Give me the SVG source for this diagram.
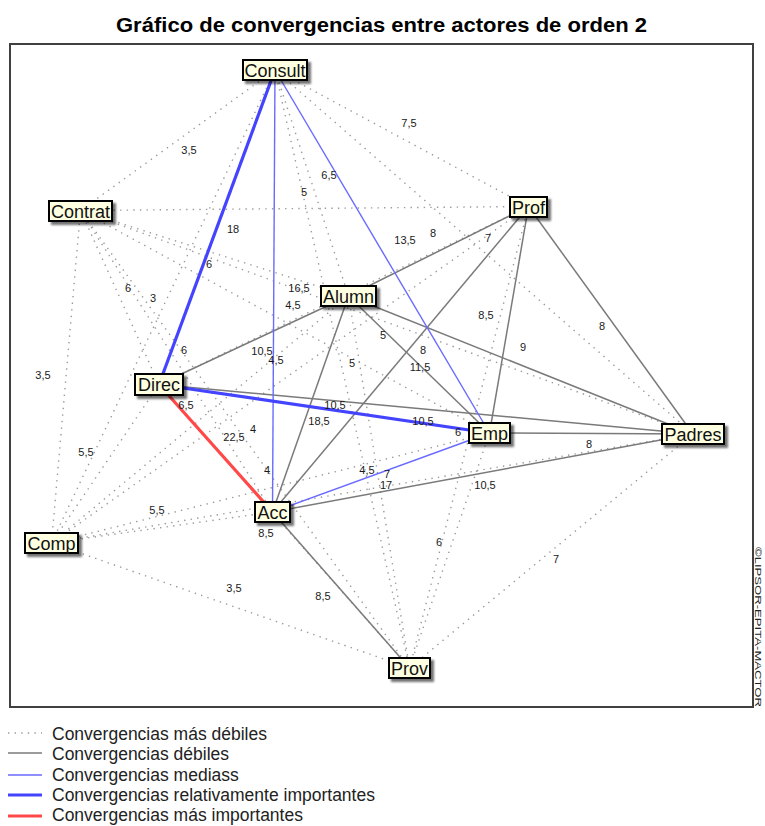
<svg xmlns="http://www.w3.org/2000/svg" width="765" height="826" viewBox="0 0 765 826">
  <defs>
    <filter id="shadow" x="-20%" y="-30%" width="150%" height="180%">
      <feDropShadow dx="3" dy="3" stdDeviation="1.2" flood-color="#000" flood-opacity="0.55"/>
    </filter>
    <style>
      .title { font-family: "Liberation Sans", Arial, sans-serif; font-weight: bold; font-size: 20px; fill: #000; }
      .box { fill: #ffffe1; stroke: #000; stroke-width: 2; filter: url(#shadow); }
      .name { font-family: "Liberation Sans", Arial, sans-serif; font-size: 18px; fill: #111; text-anchor: middle; }
      .val { font-family: "Liberation Sans", Arial, sans-serif; font-size: 11px; fill: #1a1a1a; text-anchor: middle; }
      .leg { font-family: "Liberation Sans", Arial, sans-serif; font-size: 17.5px; fill: #222; }
      .dot { stroke: #9a9a9a; stroke-width: 1.4; stroke-dasharray: 1.4 5.2; fill: none; }
      .weak { stroke: #7a7a7a; stroke-width: 1.5; fill: none; }
      .mid { stroke: #6a6aff; stroke-width: 1.4; fill: none; }
      .rel { stroke: #4444ff; stroke-width: 3.2; fill: none; }
      .top { stroke: #ff4848; stroke-width: 3.2; fill: none; }
      .copy { font-family: "Liberation Sans", Arial, sans-serif; font-size: 9.5px; fill: #222; }
    </style>
  </defs>

  <rect width="765" height="826" fill="#fff"/>

  <text class="title" x="381.5" y="32" text-anchor="middle" textLength="531" lengthAdjust="spacingAndGlyphs">Gráfico de convergencias entre actores de orden 2</text>

  <!-- plot frame -->
  <rect x="10" y="44" width="743" height="663" fill="#fff" stroke="#404040" stroke-width="2"/>

  <!-- connectors: every pair of actors, styled by convergence strength -->
  <g id="connectors">
    <g id="weakest">
      <line class="dot" x1="275" y1="70" x2="80.5" y2="210.5"/>
      <line class="dot" x1="275" y1="70" x2="528.5" y2="206.5"/>
      <line class="dot" x1="275" y1="70" x2="348.5" y2="296"/>
      <line class="dot" x1="275" y1="70" x2="693" y2="434"/>
      <line class="dot" x1="275" y1="70" x2="51.5" y2="543"/>
      <line class="dot" x1="275" y1="70" x2="409.5" y2="668"/>
      <line class="dot" x1="80.5" y1="210.5" x2="528.5" y2="206.5"/>
      <line class="dot" x1="80.5" y1="210.5" x2="348.5" y2="296"/>
      <line class="dot" x1="80.5" y1="210.5" x2="159" y2="384.5"/>
      <line class="dot" x1="80.5" y1="210.5" x2="489.5" y2="433"/>
      <line class="dot" x1="80.5" y1="210.5" x2="693" y2="434"/>
      <line class="dot" x1="80.5" y1="210.5" x2="272.5" y2="512"/>
      <line class="dot" x1="80.5" y1="210.5" x2="51.5" y2="543"/>
      <line class="dot" x1="80.5" y1="210.5" x2="409.5" y2="668"/>
      <line class="dot" x1="528.5" y1="206.5" x2="159" y2="384.5"/>
      <line class="dot" x1="528.5" y1="206.5" x2="51.5" y2="543"/>
      <line class="dot" x1="528.5" y1="206.5" x2="409.5" y2="668"/>
      <line class="dot" x1="348.5" y1="296" x2="51.5" y2="543"/>
      <line class="dot" x1="348.5" y1="296" x2="409.5" y2="668"/>
      <line class="dot" x1="159" y1="384.5" x2="51.5" y2="543"/>
      <line class="dot" x1="159" y1="384.5" x2="409.5" y2="668"/>
      <line class="dot" x1="489.5" y1="433" x2="51.5" y2="543"/>
      <line class="dot" x1="489.5" y1="433" x2="409.5" y2="668"/>
      <line class="dot" x1="693" y1="434" x2="51.5" y2="543"/>
      <line class="dot" x1="693" y1="434" x2="409.5" y2="668"/>
      <line class="dot" x1="272.5" y1="512" x2="51.5" y2="543"/>
      <line class="dot" x1="51.5" y1="543" x2="409.5" y2="668"/>
    </g>
    <g id="weak">
      <line class="weak" x1="528.5" y1="206.5" x2="348.5" y2="296"/>
      <line class="weak" x1="528.5" y1="206.5" x2="489.5" y2="433"/>
      <line class="weak" x1="528.5" y1="206.5" x2="693" y2="434"/>
      <line class="weak" x1="528.5" y1="206.5" x2="272.5" y2="512"/>
      <line class="weak" x1="348.5" y1="296" x2="159" y2="384.5"/>
      <line class="weak" x1="348.5" y1="296" x2="489.5" y2="433"/>
      <line class="weak" x1="348.5" y1="296" x2="693" y2="434"/>
      <line class="weak" x1="348.5" y1="296" x2="272.5" y2="512"/>
      <line class="weak" x1="159" y1="384.5" x2="693" y2="434"/>
      <line class="weak" x1="489.5" y1="433" x2="693" y2="434"/>
      <line class="weak" x1="693" y1="434" x2="272.5" y2="512"/>
      <line class="weak" x1="272.5" y1="512" x2="409.5" y2="668"/>
    </g>
    <g id="medium">
      <line class="mid" x1="275" y1="70" x2="489.5" y2="433"/>
      <line class="mid" x1="275" y1="70" x2="272.5" y2="512"/>
      <line class="mid" x1="489.5" y1="433" x2="272.5" y2="512"/>
    </g>
    <g id="relatively-important">
      <line class="rel" x1="275" y1="70" x2="159" y2="384.5"/>
      <line class="rel" x1="159" y1="384.5" x2="489.5" y2="433"/>
    </g>
    <g id="most-important">
      <line class="top" x1="159" y1="384.5" x2="272.5" y2="512"/>
    </g>
  </g>

  <!-- convergence values -->
  <g id="values">
    <text class="val" x="189" y="154">3,5</text>
    <text class="val" x="409" y="127">7,5</text>
    <text class="val" x="329" y="179">6,5</text>
    <text class="val" x="304" y="196">5</text>
    <text class="val" x="233" y="233">18</text>
    <text class="val" x="209" y="268">6</text>
    <text class="val" x="405" y="244">13,5</text>
    <text class="val" x="433" y="237">8</text>
    <text class="val" x="488" y="242">7</text>
    <text class="val" x="128" y="292">6</text>
    <text class="val" x="153" y="302">3</text>
    <text class="val" x="299" y="292">16,5</text>
    <text class="val" x="293" y="309">4,5</text>
    <text class="val" x="486" y="319">8,5</text>
    <text class="val" x="523" y="351">9</text>
    <text class="val" x="602" y="330">8</text>
    <text class="val" x="43" y="379">3,5</text>
    <text class="val" x="184" y="354">6</text>
    <text class="val" x="262" y="355">10,5</text>
    <text class="val" x="276" y="364">4,5</text>
    <text class="val" x="383" y="339">5</text>
    <text class="val" x="352" y="367">5</text>
    <text class="val" x="423" y="354">8</text>
    <text class="val" x="420" y="371">11,5</text>
    <text class="val" x="335" y="409">10,5</text>
    <text class="val" x="319" y="425">18,5</text>
    <text class="val" x="423" y="425">10,5</text>
    <text class="val" x="458" y="436">6</text>
    <text class="val" x="589" y="448">8</text>
    <text class="val" x="86" y="456">5,5</text>
    <text class="val" x="186" y="409">6,5</text>
    <text class="val" x="234" y="441">22,5</text>
    <text class="val" x="253" y="433">4</text>
    <text class="val" x="267" y="474">4</text>
    <text class="val" x="367" y="474">4,5</text>
    <text class="val" x="387" y="478">7</text>
    <text class="val" x="386" y="489">17</text>
    <text class="val" x="485" y="489">10,5</text>
    <text class="val" x="157" y="514">5,5</text>
    <text class="val" x="266" y="537">8,5</text>
    <text class="val" x="439" y="546">6</text>
    <text class="val" x="556" y="563">7</text>
    <text class="val" x="234" y="592">3,5</text>
    <text class="val" x="323" y="600">8,5</text>
  </g>

  <!-- actors -->
  <g id="consult"><rect class="box" x="243" y="60" width="64" height="20"/><text class="name" x="275" y="77">Consult</text></g>
  <g id="contrat"><rect class="box" x="49" y="201" width="63" height="20"/><text class="name" x="80.5" y="218">Contrat</text></g>
  <g id="prof"><rect class="box" x="510" y="197" width="37" height="20"/><text class="name" x="528.5" y="214">Prof</text></g>
  <g id="alumn"><rect class="box" x="321" y="286" width="55" height="20"/><text class="name" x="348.5" y="303">Alumn</text></g>
  <g id="direc"><rect class="box" x="135" y="374" width="48" height="21"/><text class="name" x="159" y="391">Direc</text></g>
  <g id="emp"><rect class="box" x="469" y="423" width="41" height="20"/><text class="name" x="489.5" y="440">Emp</text></g>
  <g id="padres"><rect class="box" x="662" y="424" width="62" height="20"/><text class="name" x="693" y="441">Padres</text></g>
  <g id="acc"><rect class="box" x="255" y="502" width="35" height="20"/><text class="name" x="272.5" y="519">Acc</text></g>
  <g id="comp"><rect class="box" x="25" y="533" width="53" height="20"/><text class="name" x="51.5" y="550">Comp</text></g>
  <g id="prov"><rect class="box" x="389" y="658" width="41" height="20"/><text class="name" x="409.5" y="675">Prov</text></g>

  <text class="copy" transform="translate(755,547) rotate(90)" textLength="160" lengthAdjust="spacingAndGlyphs">©LIPSOR-EPITA-MACTOR</text>

  <!-- legend -->
  <g id="legend">
    <line class="dot" x1="8" y1="733" x2="42" y2="733"/>
    <line class="weak" x1="8" y1="753" x2="42" y2="753"/>
    <line class="mid" x1="8" y1="775" x2="42" y2="775"/>
    <line class="rel" x1="8" y1="795" x2="42" y2="795"/>
    <line class="top" x1="8" y1="816" x2="42" y2="816"/>
    <text class="leg" x="52" y="740">Convergencias más débiles</text>
    <text class="leg" x="52" y="760">Convergencias débiles</text>
    <text class="leg" x="52" y="781">Convergencias mediass</text>
    <text class="leg" x="52" y="801">Convergencias relativamente importantes</text>
    <text class="leg" x="52" y="821">Convergencias más importantes</text>
  </g>
</svg>
